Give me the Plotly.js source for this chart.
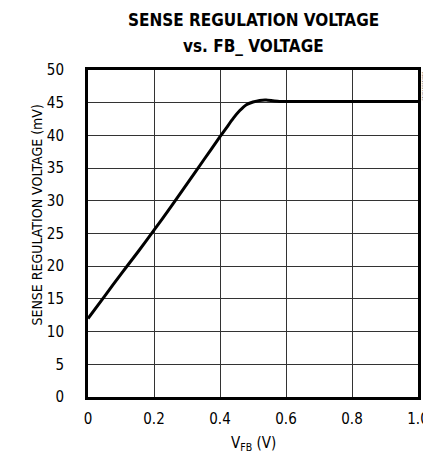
<!DOCTYPE html>
<html>
<head>
<meta charset="utf-8">
<script src="https://cdn.plot.ly/plotly-3.0.1.min.js"></script>
<style>html,body{margin:0;padding:0;background:#fff}#chart{width:423px;height:457px}</style>
</head>
<body>
<div id="chart"></div>
<script>
const vfb = [0, 0.05, 0.1, 0.15, 0.2, 0.25, 0.3, 0.35, 0.4, 0.42, 0.44, 0.46, 0.48, 0.50, 0.52, 0.54, 0.56, 0.58, 0.6, 0.7, 0.8, 0.9, 1.0];
const vsense = [12.0, 15.4, 18.8, 22.1, 25.5, 29.0, 32.6, 36.2, 39.8, 41.2, 42.6, 43.8, 44.7, 45.1, 45.35, 45.4, 45.3, 45.2, 45.2, 45.2, 45.2, 45.2, 45.2];
const xTicks = [0, 0.2, 0.4, 0.6, 0.8, 1.0];
const xTickText = ['0', '0.2', '0.4', '0.6', '0.8', '1.0'];
const yTicks = [0, 5, 10, 15, 20, 25, 30, 35, 40, 45, 50];
const titleLines = ['SENSE REGULATION VOLTAGE', 'vs. FB_ VOLTAGE'];
const xTitle = 'V<sub>FB</sub> (V)';
const yTitle = 'SENSE REGULATION VOLTAGE (mV)';

const narrow = '"Liberation Sans Narrow", "Arial Narrow", "DejaVu Sans Condensed", sans-serif';

const trace = {
  x: vfb, y: vsense, type: 'scatter', mode: 'lines',
  line: {color: '#000', width: 3, shape: 'spline', smoothing: 0.6},
  hoverinfo: 'skip'
};

const layout = {
  width: 423, height: 457,
  margin: {l: 88, r: 5, t: 70, b: 60, pad: 0},
  paper_bgcolor: '#fff', plot_bgcolor: '#fff',
  showlegend: false,
  xaxis: {
    range: [0, 1.0], tickvals: xTicks, ticktext: xTickText,
    showgrid: true, gridcolor: '#333', gridwidth: 1,
    showline: true, mirror: true, linecolor: '#000', linewidth: 3,
    zeroline: false, ticks: '', ticklabelstandoff: 6, ticklabeloverflow: 'allow',
    tickfont: {family: narrow, size: 15, color: '#000'}
  },
  yaxis: {
    range: [0, 50], tickvals: yTicks,
    showgrid: true, gridcolor: '#333', gridwidth: 1,
    showline: true, mirror: true, linecolor: '#000', linewidth: 3,
    zeroline: false, ticks: '', ticklabelstandoff: 18,
    tickfont: {family: narrow, size: 15, color: '#000'}
  },
  annotations: [
    {text: '<b>' + titleLines[0] + '</b>', xref: 'paper', yref: 'paper', x: 0.5, y: 1, yshift: 50,
     xanchor: 'center', yanchor: 'middle', showarrow: false,
     font: {family: narrow, size: 17, color: '#000'}},
    {text: '<b>' + titleLines[1] + '</b>', xref: 'paper', yref: 'paper', x: 0.5, y: 1, yshift: 24.5,
     xanchor: 'center', yanchor: 'middle', showarrow: false,
     font: {family: narrow, size: 17, color: '#000'}},
    {text: xTitle, xref: 'paper', yref: 'paper', x: 0.5, y: 0, yshift: -46,
     xanchor: 'center', yanchor: 'middle', showarrow: false,
     font: {family: narrow, size: 15, color: '#000'}},
    {text: yTitle, xref: 'paper', yref: 'paper', x: 0, y: 0.555, xshift: -51,
     xanchor: 'center', yanchor: 'middle', textangle: -90, showarrow: false,
     font: {family: narrow, size: 14, color: '#000'}},
    {text: 'MAX1909 toc13', xref: 'paper', yref: 'paper', x: 1.0, y: 1.0,
     xanchor: 'left', yanchor: 'top', xshift: 1, textangle: 90, showarrow: false,
     font: {family: narrow, size: 4, color: '#555'}}
  ]
};

Plotly.newPlot('chart', [trace], layout, {displayModeBar: false, staticPlot: true});
</script>
</body>
</html>
